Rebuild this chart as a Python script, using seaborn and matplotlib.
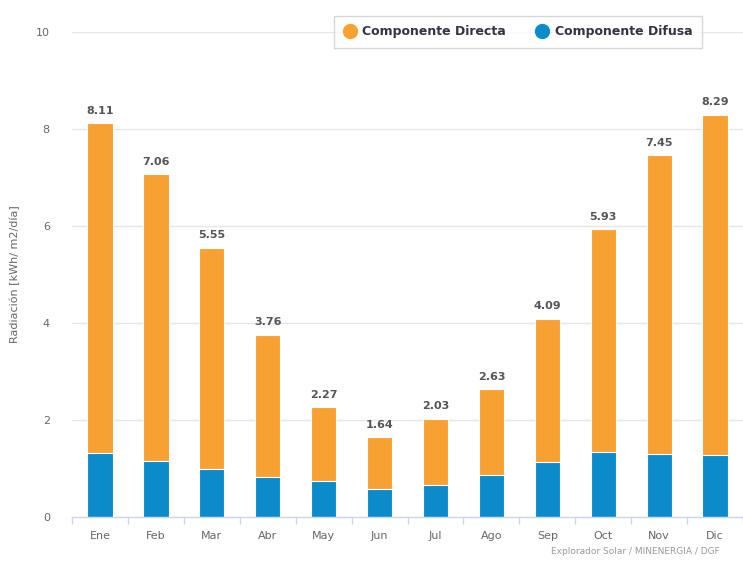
import matplotlib
matplotlib.use("Agg")
import matplotlib.pyplot as plt
from matplotlib.lines import Line2D
import seaborn as sns
import pandas as pd
import numpy as np

months = ["Ene", "Feb", "Mar", "Abr", "May", "Jun", "Jul", "Ago", "Sep", "Oct", "Nov", "Dic"]
total = [8.11, 7.06, 5.55, 3.76, 2.27, 1.64, 2.03, 2.63, 4.09, 5.93, 7.45, 8.29]
difusa = [1.31, 1.15, 0.99, 0.82, 0.75, 0.57, 0.67, 0.86, 1.13, 1.35, 1.30, 1.28]
directa = [round(t - d, 2) for t, d in zip(total, difusa)]

orange = "#F8A133"
blue = "#0B8BCA"

sns.set_theme(style="white")
plt.rcParams['font.family'] = ['DejaVu Sans']

df = pd.DataFrame({"mes": months, "total": total, "difusa": difusa, "directa": directa})

fig = plt.figure(figsize=(7.43, 5.61), dpi=100)
ax = fig.add_axes([0.097, 0.0784, 0.903, 0.865])

sns.barplot(data=df, x="mes", y="total", color=orange, width=0.45, ax=ax,
            saturation=1, edgecolor="white", linewidth=0.8)
sns.barplot(data=df, x="mes", y="difusa", color=blue, width=0.45, ax=ax,
            saturation=1, edgecolor="white", linewidth=0.8)

for i, t in enumerate(total):
    ax.text(i, t + 0.15, f"{t:.2f}", ha="center", va="bottom", fontsize=8,
            fontweight="bold", color="#555555")

ax.set_ylim(0, 10)
ax.set_xlim(-0.5, 11.5)
ax.set_yticks([0, 2, 4, 6, 8, 10])
ax.set_yticklabels(["0", "2", "4", "6", "8", "10"])
ax.yaxis.grid(True, color="#e6e6e6", linewidth=1)
ax.set_axisbelow(True)
for s in ["top", "right", "left"]:
    ax.spines[s].set_visible(False)
ax.spines["bottom"].set_color("#ccd6eb")
ax.spines["bottom"].set_linewidth(1)

ax.set_xticks(np.arange(-0.5, 12, 1), minor=True)
ax.tick_params(axis="x", which="minor", length=5, color="#ccd6eb", width=1, direction="out", bottom=True)
ax.tick_params(axis="x", which="major", length=0, labelsize=8, labelcolor="#666666", pad=10)
ax.tick_params(axis="y", length=0, labelsize=8, labelcolor="#666666", pad=16)

ax.set_xlabel("")
ax.set_ylabel("Radiación [kWh/ m2/día]", fontsize=8, color="#666666")
ax.yaxis.set_label_coords(-0.078, 0.5)

handles = [
    Line2D([0], [0], marker="o", color="none", markerfacecolor=orange, markeredgecolor=orange, markersize=10),
    Line2D([0], [0], marker="o", color="none", markerfacecolor=blue, markeredgecolor=blue, markersize=10),
]
leg = fig.legend(handles, ["Componente Directa", "Componente Difusa"], loc="upper left",
                 bbox_to_anchor=(0.441, 0.983), ncol=2, frameon=True, fancybox=False,
                 prop={"weight": "bold", "size": 9}, handletextpad=0.5, columnspacing=2.4,
                 borderpad=0.75, handlelength=1.0)
leg.get_frame().set_edgecolor("#cccccc")
leg.get_frame().set_linewidth(1)
for t in leg.get_texts():
    t.set_color("#333344")

fig.text(0.742, 0.013, "Explorador Solar / MINENERGIA / DGF", fontsize=6.5, color="#999999")

fig.savefig("out.png", dpi=100)
